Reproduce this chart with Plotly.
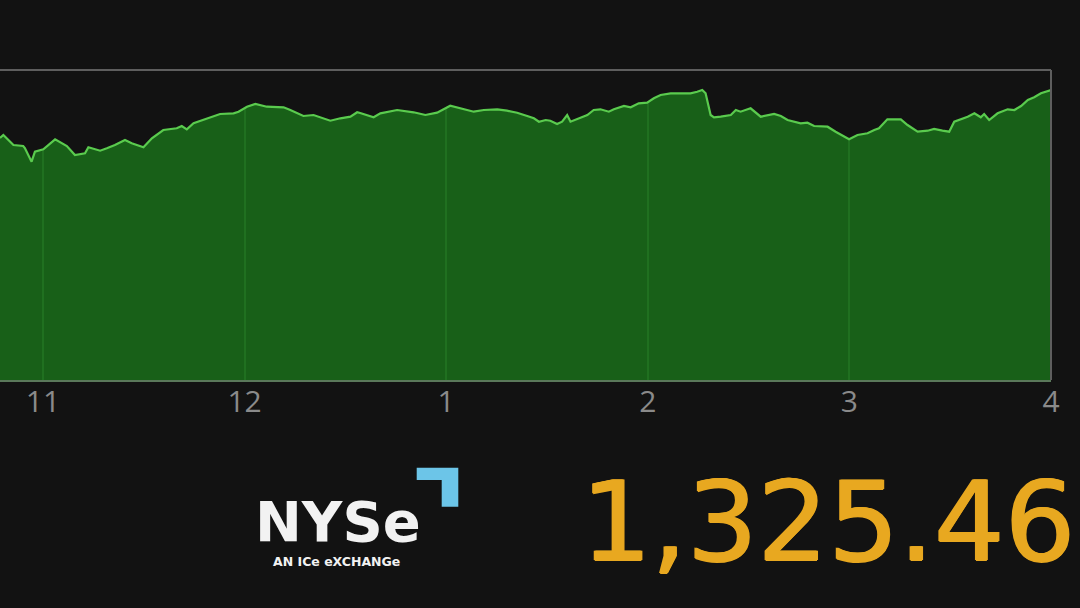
import plotly.graph_objects as go

# ---------------- data ----------------
# time of day in minutes since midnight
minutes = [647.2, 648.2, 651.2, 654.1, 654.6, 656.6, 657.6, 660.1, 663.6, 667.1,
           669.5, 672.5, 673.5, 677.0, 679.0, 681.4, 684.4, 686.4, 689.9, 692.4,
           695.8, 699.8, 701.3, 702.8, 704.8, 708.8, 712.7, 716.7, 718.2, 720.7,
           723.2, 726.6, 731.6, 733.6, 737.5, 740.5, 745.5, 748.5, 751.5, 753.5,
           754.4, 758.4, 760.4, 765.4, 770.3, 773.8, 777.3, 781.2, 784.2, 788.2,
           791.2, 795.2, 798.1, 801.1, 804.1, 806.1, 807.6, 809.6, 811.0, 813.0,
           814.5, 816.0, 817.0, 820.0, 822.0, 823.9, 825.9, 828.4, 829.9, 832.9,
           834.9, 837.3, 839.8, 841.8, 843.8, 846.8, 849.8, 852.7, 854.7, 856.2,
           857.2, 858.7, 859.7, 861.7, 864.7, 866.2, 867.6, 870.6, 873.6, 877.6,
           879.6, 881.6, 885.5, 887.5, 889.5, 893.5, 895.9, 899.9, 902.4, 905.4,
           907.4, 908.8, 911.3, 915.3, 917.3, 920.3, 923.3, 925.2, 927.7, 929.7,
           931.2, 935.2, 937.2, 939.1, 940.1, 941.6, 944.1, 947.1, 949.1, 951.1,
           953.1, 955.0, 957.0, 958.5, 960.0]

# intraday level (relative units)
level = [242.0, 245.0, 235.0, 234.0, 232.0, 218.3, 228.3, 230.7, 240.7, 234.0,
         225.0, 226.7, 232.7, 229.3, 231.7, 235.0, 240.0, 236.7, 232.7, 241.7,
         250.0, 251.7, 254.0, 250.7, 256.7, 261.7, 266.0, 266.7, 268.3, 273.3,
         276.0, 273.3, 272.7, 270.0, 264.0, 265.0, 259.3, 261.7, 263.3, 267.7,
         267.0, 262.7, 266.7, 270.0, 267.7, 265.0, 267.3, 274.3, 271.7, 268.3,
         270.0, 270.7, 269.3, 267.3, 264.0, 261.7, 258.3, 260.0, 259.3, 256.0,
         258.3, 265.0, 258.3, 262.7, 265.0, 270.0, 270.7, 268.3, 270.7, 274.0,
         272.7, 276.7, 277.3, 281.7, 285.0, 286.7, 286.7, 286.7, 288.3, 290.0,
         286.7, 265.0, 262.7, 263.3, 265.0, 270.0, 268.3, 271.7, 263.3, 266.0,
         264.0, 260.0, 256.7, 257.3, 254.0, 253.3, 248.3, 240.7, 245.0, 246.7,
         250.0, 251.7, 260.7, 260.7, 255.0, 248.3, 249.3, 251.0, 249.3, 248.3,
         258.3, 263.3, 266.7, 262.7, 266.0, 260.0, 266.7, 270.7, 270.0, 274.0,
         280.0, 282.7, 286.7, 288.3, 290.0]

hour_ticks = [660, 720, 780, 840, 900, 960]
hour_labels = ["11", "12", "1", "2", "3", "4"]
close_value = "1,325.46"
logo_text = "NYSe"
logo_sub = "AN ICe eXCHANGe"

# ---------------- layout helpers ----------------
W, H = 1080, 608
ML, MR, MT, MB = 0, 29, 70, 228
PW = W - ML - MR
PH = H - MT - MB
X_RANGE = [647.2, 960]
Y_RANGE = [0, 310]
BG = "#121212"
GOLD = "#e8a820"


def px(x):
    return (x - ML) / PW


def py(y):
    return (H - MB - y) / PH


fig = go.Figure()

# invisible top boundary (for masking the gridlines above the curve)
fig.add_trace(go.Scatter(x=minutes, y=[Y_RANGE[1]] * len(minutes), mode="lines",
                         line=dict(width=0, color=BG), hoverinfo="skip",
                         showlegend=False))
fig.add_trace(go.Scatter(x=minutes, y=level, mode="lines",
                         line=dict(width=0, color=BG), fill="tonexty",
                         fillcolor=BG, hoverinfo="skip", showlegend=False))
# the area chart
fig.add_trace(go.Scatter(x=minutes, y=level, mode="lines",
                         line=dict(color="#5acb4e", width=2.2),
                         fill="tozeroy", fillcolor="rgba(25,107,25,0.88)",
                         showlegend=False))

fig.update_layout(
    width=W, height=H,
    margin=dict(l=ML, r=MR, t=MT, b=MB, pad=0),
    paper_bgcolor=BG, plot_bgcolor=BG,
    xaxis=dict(range=X_RANGE, tickvals=hour_ticks, ticktext=hour_labels,
               showgrid=True, gridcolor="rgb(80,150,80)", gridwidth=1.5,
               zeroline=False, showline=True, linecolor="#5a785a", linewidth=2,
               ticks="", ticklabelstandoff=-6,
               tickfont=dict(family="Open Sans", size=30, color="#8a8a8a"),
               fixedrange=True),
    yaxis=dict(range=Y_RANGE, showgrid=False, zeroline=False,
               showticklabels=False, showline=False, fixedrange=True),
    shapes=[
        dict(type="line", xref="paper", yref="paper", x0=0, x1=1, y0=1, y1=1,
             line=dict(color="#5e5e5e", width=2), layer="above"),
        dict(type="line", xref="paper", yref="paper", x0=1, x1=1, y0=0, y1=1,
             line=dict(color="#5e5e5e", width=2), layer="above"),
        # NYSE logo bracket
        dict(type="path", xref="paper", yref="paper",
             path=(f"M {px(416.7)} {py(467.7)} L {px(458.3)} {py(467.7)} "
                   f"L {px(458.3)} {py(506.7)} L {px(441.7)} {py(506.7)} "
                   f"L {px(441.7)} {py(480)} L {px(416.7)} {py(480)} Z"),
             fillcolor="#6cc5e8", line=dict(width=0), layer="above"),
    ],
    annotations=[
        dict(text=logo_text, xref="paper", yref="paper", x=px(253), y=py(556),
             xanchor="left", yanchor="bottom", showarrow=False,
             font=dict(family="DejaVu Sans", size=56, color="#f2f2f2", weight="bold")),
        dict(text=logo_sub, xref="paper", yref="paper", x=px(336), y=py(561),
             xanchor="center", yanchor="middle", showarrow=False,
             font=dict(family="DejaVu Sans", size=12.5, color="#f2f2f2", weight="bold")),
        dict(text=close_value, xref="paper", yref="paper", x=px(1077), y=py(521),
             xanchor="right", yanchor="middle", showarrow=False,
             font=dict(family="DejaVu Sans", size=111, color=GOLD,
                       shadow=f"1px 0px 0px {GOLD}, -1px 0px 0px {GOLD}, 0px 1px 0px {GOLD}")),
    ],
)

fig.write_html("out.html", config={"displayModeBar": False},
               post_script="document.body.style.margin='0';document.body.style.background='#121212';")
